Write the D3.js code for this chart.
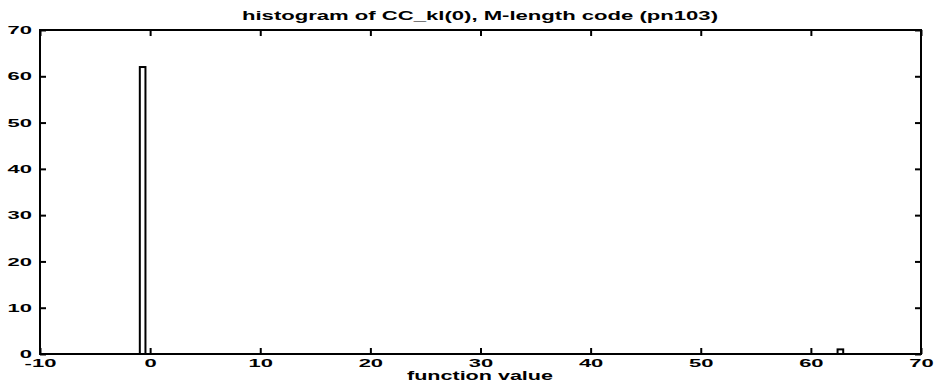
<!DOCTYPE html>
<html>
<head>
<meta charset="utf-8">
<script src="https://cdn.jsdelivr.net/npm/d3@7"></script>
<style>
  body { margin: 0; background: #fff; }
  text { font-family: "Liberation Sans", Arial, sans-serif; font-weight: bold; fill: #000; }
</style>
</head>
<body>
<svg id="chart" width="939" height="387"></svg>
<script>
// Histogram of CC_kl(0) values: 100 bins over [-1, 63], only two non-empty
const binCenters = [-0.68, 62.68];
const binCounts = [62, 1];
const binSpacing = 0.64;
const barFraction = 0.8;

const xTicks = [-10, 0, 10, 20, 30, 40, 50, 60, 70];
const yTicks = [0, 10, 20, 30, 40, 50, 60, 70];
const xDomain = [-10, 70];
const yDomain = [0, 70];

const titleText = "histogram of CC_kl(0), M-length code (pn103)";
const xLabelText = "function value";

const svg = d3.select("#chart");
const plot = { left: 40, right: 921, top: 30, bottom: 354 };

const x = d3.scaleLinear().domain(xDomain).range([plot.left, plot.right]);
const y = d3.scaleLinear().domain(yDomain).range([plot.bottom, plot.top]);

const tickLen = 6;
const labelSize = 10;
const labelStretch = 2.2;
const plainFormat = d => String(d);

// Bars (outlined, white fill)
const bars = binCenters.map((c, i) => ({ c, n: binCounts[i] }));
const half = binSpacing * barFraction / 2;
svg.append("g").selectAll("rect").data(bars).join("rect")
  .attr("x", d => x(d.c - half))
  .attr("width", d => x(d.c + half) - x(d.c - half))
  .attr("y", d => y(d.n))
  .attr("height", d => y(0) - y(d.n))
  .attr("fill", "#fff")
  .attr("stroke", "#000")
  .attr("stroke-width", 2);

function styleAxis(g) {
  g.select(".domain").remove();
  g.selectAll(".tick line").attr("stroke", "#000").attr("stroke-width", 2);
}

// Bottom axis with labels
const gx = svg.append("g")
  .attr("transform", `translate(0,${plot.bottom})`)
  .call(d3.axisBottom(x).tickValues(xTicks).tickFormat(plainFormat)
    .tickSizeInner(-tickLen).tickSizeOuter(0).tickPadding(0))
  .call(styleAxis);
gx.selectAll(".tick text")
  .attr("font-size", labelSize)
  .attr("y", 6)
  .attr("dy", "0.71em")
  .attr("transform", `scale(${labelStretch},1)`);

// Top axis, ticks only
svg.append("g")
  .attr("transform", `translate(0,${plot.top})`)
  .call(d3.axisTop(x).tickValues(xTicks).tickSizeInner(-tickLen).tickSizeOuter(0).tickFormat(""))
  .call(styleAxis);

// Left axis with labels
const gy = svg.append("g")
  .attr("transform", `translate(${plot.left},0)`)
  .call(d3.axisLeft(y).tickValues(yTicks).tickFormat(plainFormat)
    .tickSizeInner(-tickLen).tickSizeOuter(0))
  .call(styleAxis);
gy.selectAll(".tick text")
  .attr("font-size", labelSize)
  .attr("x", -8 / labelStretch)
  .attr("dy", "0.36em")
  .attr("transform", `scale(${labelStretch},1)`);

// Right axis, ticks only
svg.append("g")
  .attr("transform", `translate(${plot.right},0)`)
  .call(d3.axisRight(y).tickValues(yTicks).tickSizeInner(-tickLen).tickSizeOuter(0).tickFormat(""))
  .call(styleAxis);

// Plot frame
svg.append("rect")
  .attr("x", plot.left).attr("y", plot.top)
  .attr("width", plot.right - plot.left).attr("height", plot.bottom - plot.top)
  .attr("fill", "none").attr("stroke", "#000").attr("stroke-width", 2);

// Title and x label
svg.append("text")
  .attr("x", 480).attr("y", 20)
  .attr("text-anchor", "middle")
  .attr("font-size", 12.5)
  .attr("textLength", 476)
  .attr("lengthAdjust", "spacingAndGlyphs")
  .text(titleText);

svg.append("text")
  .attr("x", 480).attr("y", 380)
  .attr("text-anchor", "middle")
  .attr("font-size", 12)
  .attr("textLength", 146)
  .attr("lengthAdjust", "spacingAndGlyphs")
  .text(xLabelText);
</script>
</body>
</html>
